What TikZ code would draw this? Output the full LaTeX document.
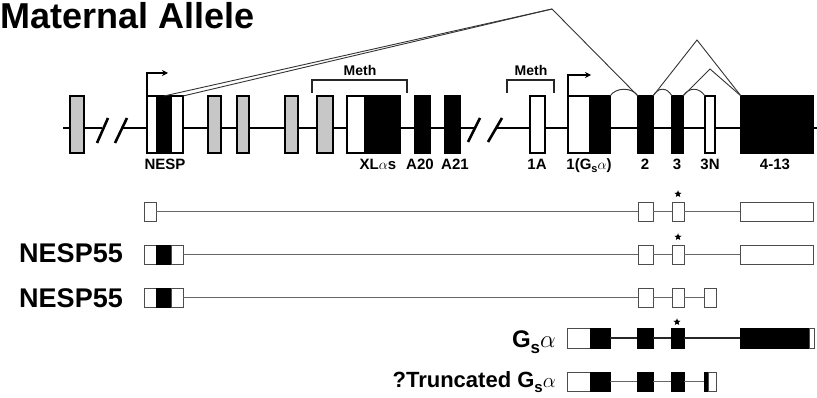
\documentclass[tikz,border=0pt]{standalone}
\usepackage{fontspec}
\setmainfont{Liberation Sans}
\usetikzlibrary{shapes.geometric,arrows.meta}
\newcommand\exon[6]{\node[#2, anchor=north west, minimum width={(#4-#3)*1pt}, minimum height={(#6-#5)*1pt}] (#1) at (#3,#5) {};}
\newcommand\gsub[2]{G\raisebox{#2}{\fontsize{#1}{#1}\selectfont s}$\alpha$}
\begin{document}
\begin{tikzpicture}[x=1pt,y=-1pt,
  box/.style={draw=black, line width=1.2pt, inner sep=0pt, outer sep=0pt},
  wbox/.style={box, fill=white},
  bbox/.style={box, fill=black},
  gbox/.style={box, fill=black!22},
  sbox/.style={draw=black!70, line width=0.9pt, inner sep=0pt, outer sep=0pt},
  wsm/.style={sbox, fill=white},
  bsm/.style={sbox, draw=black, fill=black},
  gline/.style={line width=2.6pt, black},
  slash/.style={line width=2.6pt, black},
  splice/.style={line width=0.9pt, black!80},
  tss/.style={line width=1.4pt, black, -{Stealth[length=6pt,width=6pt]}},
  bracket/.style={line width=1.1pt, black!85},
  rowline/.style={line width=1.1pt, black!60},
  rowdark/.style={line width=1.1pt, black!85},
  lab/.style={font=\fontsize{15}{17}\selectfont\bfseries, inner sep=0pt, anchor=base},
  meth/.style={font=\fontsize{14}{16}\selectfont\bfseries, inner sep=0pt, anchor=base},
  bigtext/.style={font=\fontsize{27}{29}\selectfont\bfseries, anchor=base east, inner sep=0pt},
  starmark/.style={star, star points=5, star point ratio=2.3, fill=black, minimum size=7.5pt, inner sep=0pt}
]
\useasboundingbox (0,0) rectangle (817,398);

% title
\node[font=\fontsize{36}{38}\selectfont\bfseries, anchor=base west, inner sep=0pt] (title) at (0,29) {Maternal Allele};

% gene line
\coordinate (L0) at (63,128);
\coordinate (L1) at (102,128);
\coordinate (L2) at (121,128);
\coordinate (L3) at (475,128);
\coordinate (L4) at (496,128);
\coordinate (L5) at (817,128);
\draw[gline] (L0) -- (L1);
\draw[gline] (L2) -- (L3);
\draw[gline] (L4) -- (L5);
\coordinate (s1a) at (97,143); \coordinate (s1b) at (108,118);
\coordinate (s2a) at (115,143); \coordinate (s2b) at (127,118);
\coordinate (s3a) at (468,142); \coordinate (s3b) at (480,118);
\coordinate (s4a) at (488,142); \coordinate (s4b) at (502,118);
\draw[slash] (s1a) -- (s1b);
\draw[slash] (s2a) -- (s2b);
\draw[slash] (s3a) -- (s3b);
\draw[slash] (s4a) -- (s4b);

% exons of the locus
\exon{g1}{gbox}{70}{84}{96}{153}
\exon{nespA}{wbox}{147}{157}{96}{153}
\exon{nespB}{bbox}{157}{171}{96}{153}
\exon{nespC}{wbox}{171}{183}{96}{153}
\exon{g2}{gbox}{208}{221}{96}{153}
\exon{g3}{gbox}{237}{249}{96}{153}
\exon{g4}{gbox}{285}{298}{96}{153}
\exon{g5}{gbox}{317}{333}{96}{153}
\exon{xlA}{wbox}{347}{365}{96}{153}
\exon{xlB}{bbox}{365}{400}{96}{153}
\exon{a20}{bbox}{415}{430}{96}{153}
\exon{a21}{bbox}{445}{460}{96}{153}
\exon{e1a}{wbox}{530}{545}{96}{153}
\exon{gsA}{wbox}{568}{590}{96}{153}
\exon{gsB}{bbox}{590}{610}{96}{153}
\exon{e2}{bbox}{638}{653}{96}{153}
\exon{e3}{bbox}{672}{683}{96}{153}
\exon{e3n}{wbox}{705}{715}{96}{153}
\exon{e4}{bbox}{741}{813}{96}{153}

% transcription start arrows
\draw[tss] (nespA.north west) -- ++(0,-23) -- ++(21,0);
\draw[tss] (gsA.north west) -- ++(0,-21) -- ++(23,0);

% methylation brackets
\coordinate (m1a) at (312,93); \coordinate (m1b) at (407,93);
\coordinate (m2a) at (507,93); \coordinate (m2b) at (554,93);
\draw[bracket] (m1a) -- ++(0,-13) -| (m1b);
\draw[bracket] (m2a) -- ++(0,-13) -| (m2b);
\node[meth] (meth1) at (360,76) {Meth};
\node[meth] (meth2) at (531,76) {Meth};

% splicing
\coordinate (pk1) at (552,9);
\coordinate (pk2) at (697,40);
\coordinate (pk3) at (710,69);
\draw[splice] (nespB.north) -- (pk1) -- (e2.north west);
\draw[splice] (nespC.north east) -- (pk1);
\draw[splice] (gsB.north east) .. controls +(6,-9) and +(-6,-9) .. (e2.north west);
\draw[splice] (e2.north east) .. controls +(5,-9) and +(-5,-9) .. (e3.north west);
\draw[splice] (e3.north east) .. controls +(6,-9) and +(-6,-9) .. (e3n.north west);
\draw[splice] (e2.north east) -- (pk2) -- (e4.north west);
\draw[splice] (e3.north east) -- (pk3) -- (e4.north west);

% exon labels
\node[lab] (lNESP) at (165,170) {NESP};
\node[lab] (lXL) at (378,170) {XL$\alpha$s};
\node[lab] (lA20) at (420,170) {A20};
\node[lab] (lA21) at (455,170) {A21};
\node[lab] (l1A) at (537,170) {1A};
\node[lab] (l1G) at (589,170) {1(\gsub{11}{-3pt})};
\node[lab] (l2) at (645,170) {2};
\node[lab] (l3) at (677,170) {3};
\node[lab] (l3N) at (710,170) {3N};
\node[lab] (l4) at (775,170) {4-13};

% row 1
\exon{r1a}{wsm}{144}{156}{202}{221}
\exon{r1b}{wsm}{638}{653}{202}{221}
\exon{r1c}{wsm}{672}{684}{202}{221}
\exon{r1d}{wsm}{740}{813}{202}{221}
\draw[rowline] (r1a.east) -- (r1b.west);
\draw[rowline] (r1b.east) -- (r1c.west);
\draw[rowline] (r1c.east) -- (r1d.west);
\node[starmark] (st1) at (678,194) {};

% row 2
\exon{r2a}{wsm}{144}{156}{245}{264}
\exon{r2b}{bsm}{156}{171}{245}{264}
\exon{r2c}{wsm}{171}{183}{245}{264}
\exon{r2d}{wsm}{638}{653}{245}{264}
\exon{r2e}{wsm}{672}{684}{245}{264}
\exon{r2f}{wsm}{740}{813}{245}{264}
\draw[rowline] (r2c.east) -- (r2d.west);
\draw[rowline] (r2d.east) -- (r2e.west);
\draw[rowline] (r2e.east) -- (r2f.west);
\node[starmark] (st2) at (678,237) {};
\node[bigtext] (n55a) at (123,263) {NESP55};

% row 3
\exon{r3a}{wsm}{144}{156}{288}{307}
\exon{r3b}{bsm}{156}{171}{288}{307}
\exon{r3c}{wsm}{171}{183}{288}{307}
\exon{r3d}{wsm}{638}{653}{288}{307}
\exon{r3e}{wsm}{672}{684}{288}{307}
\exon{r3f}{wsm}{704}{716}{288}{307}
\draw[rowline] (r3c.east) -- (r3d.west);
\draw[rowline] (r3d.east) -- (r3e.west);
\draw[rowline] (r3e.east) -- (r3f.west);
\node[bigtext] (n55b) at (123,307) {NESP55};

% row 4
\exon{r4a}{wsm}{567}{590}{328}{348}
\exon{r4b}{bsm}{590}{610}{328}{348}
\exon{r4c}{bsm}{637}{653}{328}{348}
\exon{r4d}{bsm}{671}{684}{328}{348}
\exon{r4e}{bsm}{740}{809}{328}{348}
\exon{r4f}{wsm}{809}{814}{328}{348}
\draw[rowdark] (r4b.east) -- (r4c.west);
\draw[rowdark] (r4c.east) -- (r4d.west);
\draw[rowdark] (r4d.east) -- (r4e.west);
\node[starmark] (st4) at (677,322) {};
\node[font=\fontsize{24}{26}\selectfont\bfseries, anchor=base east, inner sep=0pt] (gsa) at (556,347) {\gsub{17}{-6pt}};

% row 5
\exon{r5a}{wsm}{567}{590}{372}{391}
\exon{r5b}{bsm}{590}{610}{372}{391}
\exon{r5c}{bsm}{637}{653}{372}{391}
\exon{r5d}{bsm}{671}{684}{372}{391}
\exon{r5e}{bsm}{704}{708}{372}{391}
\exon{r5f}{wsm}{708}{716}{372}{391}
\draw[rowline] (r5b.east) -- (r5c.west);
\draw[rowline] (r5c.east) -- (r5d.west);
\draw[rowline] (r5d.east) -- (r5e.west);
\node[font=\fontsize{22}{24}\selectfont\bfseries, anchor=base east, inner sep=0pt] (trunc) at (556,387) {?Truncated \gsub{15}{-5pt}};
\end{tikzpicture}
\end{document}
